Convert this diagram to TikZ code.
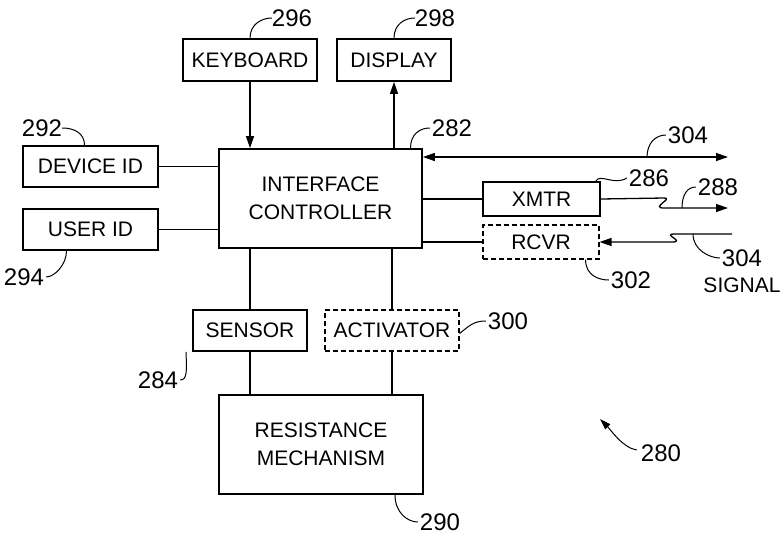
\documentclass[tikz,border=0pt]{standalone}
\usepackage{fontspec}
\setmainfont{Liberation Sans}
\usepackage{tikz}
\usetikzlibrary{arrows.meta}

\begin{document}
\begin{tikzpicture}[x=1pt,y=-1pt]
			\tikzstyle{block}=[draw,line width=1.7pt,inner sep=0pt,align=center,font=\fontsize{21}{28}\selectfont]
			\tikzstyle{dblock}=[block,line width=1.1pt,dash pattern=on 5pt off 3pt]
			\tikzstyle{wire}=[line width=1.3pt]
			\tikzstyle{lead}=[line width=1pt]
			\tikzstyle{num}=[inner sep=0pt,font=\fontsize{24}{26}\selectfont]
			\tikzstyle{arr}=[wire,-{Triangle[length=12pt,width=8pt]}]
			
			\useasboundingbox (0,0) rectangle (783,536);
			
			% blocks
			\node [block,minimum width=134,minimum height=42] (kbd) at (250,60) {KEYBOARD};
			\node [block,minimum width=114,minimum height=42] (disp) at (394,60) {DISPLAY};
			\node [block,minimum width=135,minimum height=41] (dev) at (90.5,166.5) {DEVICE ID};
			\node [block,minimum width=135,minimum height=41] (user) at (90.5,229.5) {USER ID};
			\node [block,minimum width=203,minimum height=99] (ctrl) at (320.5,198.5) {INTERFACE\\CONTROLLER};
			\node [block,minimum width=117,minimum height=34] (xmtr) at (541.5,199) {XMTR};
			\node [dblock,minimum width=116,minimum height=34] (rcvr) at (541,242) {RCVR};
			\node [block,minimum width=114,minimum height=41] (sens) at (250,330.5) {SENSOR};
			\node [dblock,minimum width=134,minimum height=41] (act) at (392,330.5) {ACTIVATOR};
			\node [block,minimum width=204,minimum height=99] (res) at (321,444.5) {RESISTANCE\\MECHANISM};
			
			% free ends
			\coordinate (busend) at (728,157);
			\coordinate (txend) at (728,208);
			\coordinate (rxend) at (732,234);
			
			% connectors
			\draw [arr] (kbd.south) -- (kbd.south |- ctrl.north);
			\draw [arr] (disp.south |- ctrl.north) -- (disp.south);
			\draw [wire] (dev.east) -- (dev.east -| ctrl.west);
			\draw [wire] (user.east) -- (user.east -| ctrl.west);
			\draw [wire] (sens.north) -- (sens.north |- ctrl.south);
			\draw [wire] (sens.south) -- (sens.south |- res.north);
			\draw [wire] (act.north) -- (act.north |- ctrl.south);
			\draw [wire] (act.south) -- (act.south |- res.north);
			\draw [wire] (xmtr.west -| ctrl.east) -- (xmtr.west);
			\draw [wire] (rcvr.west -| ctrl.east) -- (rcvr.west);
			\draw [wire,{Triangle[length=12pt,width=8pt]}-{Triangle[length=12pt,width=8pt]}] (busend -| ctrl.east) -- (busend);
			\draw [arr] (xmtr.east) -- (664,198) .. controls (674,198) and (650,208) .. (664,208) -- (txend);
			\draw [arr] (rxend) -- (674,234) .. controls (662,234) and (686,242) .. (672,242) -- (rcvr.east);
			
			% reference numerals
			\node [num] (n296) at (292,18) {296};
			\node [num] (n298) at (435,18) {298};
			\node [num] (n292) at (42,128) {292};
			\node [num] (n294) at (24,277) {294};
			\node [num] (n282) at (452,128) {282};
			\node [num] (n304a) at (688,135) {304};
			\node [num] (n286) at (649,178) {286};
			\node [num] (n288) at (718,187) {288};
			\node [num] (n304b) at (742,258) {304};
			\node [num,font=\fontsize{21}{23}\selectfont] (sig) at (742,285) {SIGNAL};
			\node [num] (n302) at (631,280) {302};
			\node [num] (n300) at (508,321) {300};
			\node [num] (n284) at (158,380) {284};
			\node [num] (n290) at (440,522) {290};
			\node [num] (n280) at (661,453) {280};
			
			% leaders
			\draw [lead] (kbd.north) .. controls +(0,-14) and +(-10,0) .. (n296.west);
			\draw [lead] (disp.north) .. controls +(0,-14) and +(-10,0) .. (n298.west);
			\draw [lead] (n292.east) .. controls +(12,0) and +(0,-12) .. ([xshift=-6pt]dev.north);
			\draw [lead] ([xshift=-24pt]user.south) .. controls +(0,14) and +(8,0) .. ([xshift=2pt]n294.east);
			\draw [lead] ([xshift=90pt]ctrl.north) .. controls +(0,-14) and +(-10,0) .. ([xshift=-2pt]n282.west);
			\draw [lead] (647,157) .. controls +(0,-14) and +(-10,0) .. ([xshift=-2pt]n304a.west);
			\draw [lead] ([xshift=-5pt]xmtr.north east) .. controls (600,173) and (614,186) .. ([xshift=-2pt]n286.west);
			\draw [lead] (682,208) .. controls +(0,-14) and +(-8,0) .. ([xshift=-2pt]n288.west);
			\draw [lead] (693,234) .. controls +(0,16) and +(-10,0) .. ([xshift=-2pt]n304b.west);
			\draw [lead] ([xshift=-14pt]rcvr.south east) .. controls +(0,16) and +(-10,0) .. ([xshift=-2pt]n302.west);
			\draw [lead] ([yshift=-3pt]act.east) .. controls +(10,-8) and +(-12,0) .. ([xshift=-2pt]n300.west);
			\draw [lead] ([xshift=-6pt]sens.south west) .. controls +(0,16) and +(8,0) .. ([xshift=2pt]n284.east);
			\draw [lead] ([xshift=74pt]res.south) .. controls +(0,18) and +(-10,0) .. ([xshift=-2pt]n290.west);
			\draw [lead,-{Triangle[length=11pt,width=7pt]}] ([xshift=-4pt,yshift=3pt]n280.west) .. controls +(-14,-2) and +(10,10) .. (600,419);
\end{tikzpicture}
\end{document}
